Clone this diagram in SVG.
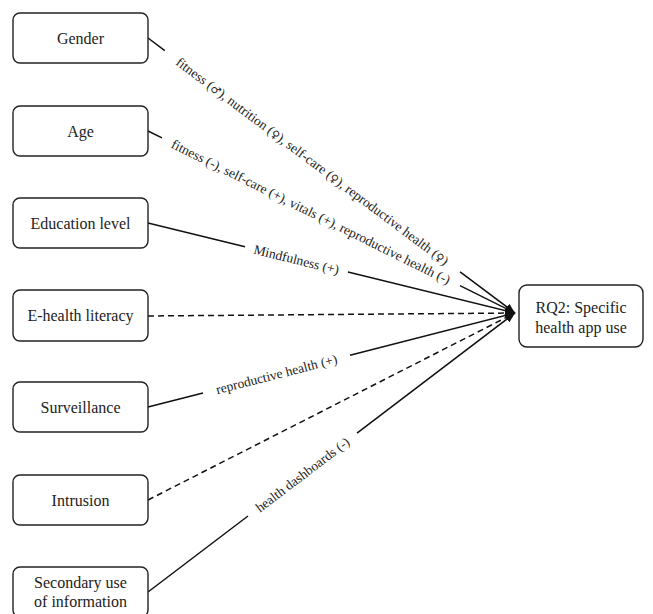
<svg xmlns="http://www.w3.org/2000/svg" width="653" height="614" viewBox="0 0 653 614">
<style>
.box{fill:#fff;stroke:#222;stroke-width:1.4}
.t{font-family:"Liberation Serif","Times New Roman",serif;font-size:16px;fill:#222;text-anchor:middle}
.l{font-family:"Liberation Serif","Times New Roman",serif;font-size:13.5px;fill:#222;text-anchor:middle}
.s{font-family:"DejaVu Sans",sans-serif;font-size:11px}
.c{fill:none;stroke:#111;stroke-width:1.5}
.d{stroke-dasharray:6,4}
</style>
<defs>
<marker id="ah" markerUnits="userSpaceOnUse" markerWidth="10" markerHeight="8" refX="10" refY="4" orient="auto">
<path d="M0,0 L10,4 L0,8 z" fill="#111"/>
</marker>
</defs>
<g id="connectors">
<path class="c" d="M148,38 L164.8,50.6 M460.1,271.9 L515,313" marker-end="url(#ah)"/>
<path class="c" d="M148,131 L162,137.9 M460,285.7 L515,313" marker-end="url(#ah)"/>
<path class="c" d="M148,223 L245,246.8 M348,272 L515,313" marker-end="url(#ah)"/>
<path class="c d" d="M148,316 L515,313" marker-end="url(#ah)"/>
<path class="c" d="M148,407 L203,392.9 M350,355.3 L515,313" marker-end="url(#ah)"/>
<path class="c d" d="M148,500 L515,313" marker-end="url(#ah)"/>
<path class="c" d="M148,592 L248,516 M357,433.1 L515,313" marker-end="url(#ah)"/>
<text class="l" transform="translate(312.5,161.2) rotate(36.84)" dy="0.35em">fitness (<tspan class="s">♂</tspan>), nutrition (<tspan class="s">♀</tspan>), self-care (<tspan class="s">♀</tspan>), reproductive health (<tspan class="s">♀</tspan>)</text>
<text class="l" transform="translate(311,211.8) rotate(26.38)" dy="0.35em">fitness (-), self-care (+), vitals (+), reproductive health (-)</text>
<text class="l" transform="translate(296.5,259.4) rotate(13.78)" dy="0.35em">Mindfulness (+)</text>
<text class="l" transform="translate(276.5,374.1) rotate(-14.37)" dy="0.35em">reproductive health (+)</text>
<text class="l" transform="translate(302.4,474.6) rotate(-37.24)" dy="0.35em">health dashboards (-)</text>
</g>
<g id="gender"><rect class="box" x="13" y="13" width="135" height="50" rx="7"/><text class="t" x="80.5" y="44">Gender</text></g>
<g id="age"><rect class="box" x="13" y="106" width="135" height="50" rx="7"/><text class="t" x="80.5" y="137">Age</text></g>
<g id="education"><rect class="box" x="13" y="198" width="135" height="50" rx="7"/><text class="t" x="80.5" y="229">Education level</text></g>
<g id="ehealth"><rect class="box" x="13" y="290" width="135" height="51" rx="7"/><text class="t" x="80.5" y="321">E-health literacy</text></g>
<g id="surveillance"><rect class="box" x="13" y="382" width="135" height="50" rx="7"/><text class="t" x="80.5" y="413">Surveillance</text></g>
<g id="intrusion"><rect class="box" x="13" y="475" width="135" height="50" rx="7"/><text class="t" x="80.5" y="506">Intrusion</text></g>
<g id="secondary"><rect class="box" x="13" y="567" width="135" height="50" rx="7"/><text class="t" x="80.5" y="588">Secondary use</text><text class="t" x="80.5" y="607">of information</text></g>
<g id="rq2"><rect class="box" x="519" y="285" width="124" height="62" rx="8"/><text class="t" x="581" y="313">RQ2: Specific</text><text class="t" x="581" y="333">health app use</text></g>
</svg>
